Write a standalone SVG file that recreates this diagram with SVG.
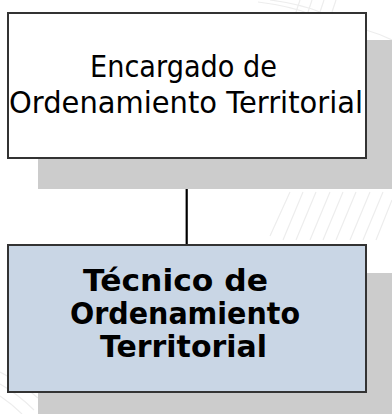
<svg xmlns="http://www.w3.org/2000/svg" width="392" height="414" viewBox="0 0 392 414">
<style>
.bg{fill:#ffffff}
.wm{fill:none;stroke:#ededed;stroke-width:1.2}
.shadow{fill:#cccccc}
.box{stroke:#333333;stroke-width:2}
.t{font-family:"DejaVu Sans",Verdana,sans-serif;font-size:30px;fill:#000;text-anchor:start}
.b{font-weight:bold}
.conn{stroke:#000;stroke-width:2.2;fill:none}
</style>
<rect class="bg" x="0" y="0" width="392" height="414"/>
<g id="watermark">
<path class="wm" d="M258 2 Q290 6 310 14"/>
<path class="wm" d="M270 0 Q300 4 320 12"/>
<path class="wm" d="M300 0 L296 12 M312 0 L308 12 M324 0 L320 12 M336 0 L332 12"/>
<path class="wm" d="M366 30 Q380 34 392 40"/>
<path class="wm" d="M366 100 Q380 108 392 118"/>
<path class="wm" d="M290 192 L270 236 M303 192 L283 240 M316 192 L296 240 M330 192 L310 240 M343 192 L323 240 M356 192 L336 240 M370 192 L350 240 M383 192 L363 240 M392 200 L376 240"/>
<path class="wm" d="M0 372 Q20 382 38 398 M0 384 Q18 394 34 410 M0 396 Q12 404 22 414"/>
</g>
<g id="connectors">
<line class="conn" x1="186.7" y1="158" x2="186.7" y2="246"/>
</g>
<g id="node-encargado">
<rect class="shadow" x="38" y="40" width="360" height="149"/>
<rect class="box" x="8" y="13" width="358" height="145" fill="#ffffff"/>
<text class="t" x="90" y="77" textLength="187" lengthAdjust="spacingAndGlyphs">Encargado de</text>
<text class="t" x="9" y="113" textLength="354" lengthAdjust="spacingAndGlyphs">Ordenamiento Territorial</text>
</g>
<g id="node-tecnico">
<rect class="shadow" x="38" y="273" width="360" height="145"/>
<rect class="box" x="8" y="245" width="358" height="147" fill="#c9d6e5"/>
<text class="t b" x="83" y="291" textLength="185" lengthAdjust="spacingAndGlyphs">Técnico de</text>
<text class="t b" x="70" y="324" textLength="230" lengthAdjust="spacingAndGlyphs">Ordenamiento</text>
<text class="t b" x="100" y="357" textLength="167" lengthAdjust="spacingAndGlyphs">Territorial</text>
</g>
</svg>
